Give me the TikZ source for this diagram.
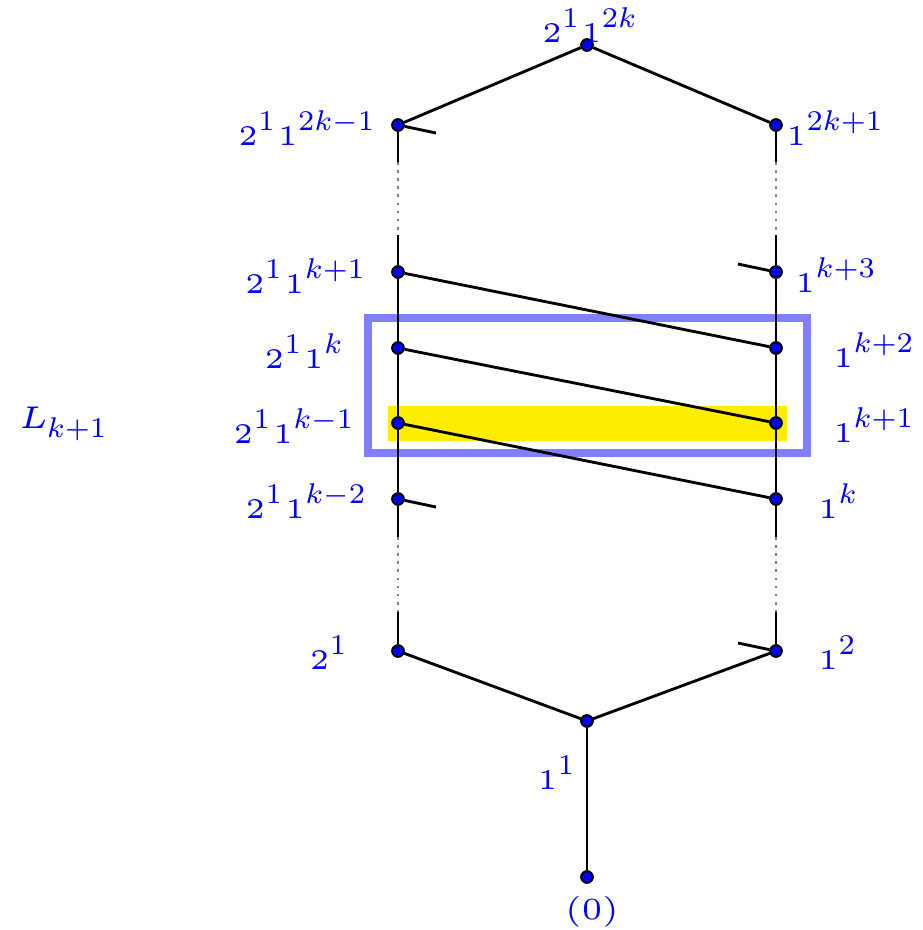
\documentclass[tikz,border=0pt]{standalone}
\usepackage{graphicx}
\definecolor{hlyellow}{RGB}{255,237,0}
\definecolor{boxblue}{RGB}{128,128,255}
\newcommand\bs[1]{\scalebox{1.9}{$\scriptscriptstyle #1$}}
\newcommand\up[1]{\kern0.2pt\raisebox{5pt}{\scalebox{1.36}{$\scriptstyle #1$}}\kern1.1pt}
\newcommand\dn[1]{\raisebox{-3.3pt}{\scalebox{1.36}{$\scriptstyle #1$}}}
\begin{document}
\begin{tikzpicture}[x=0.33333pt,y=-0.33333pt,
  dot/.style={circle,fill=blue,draw=black,line width=0.5pt,inner sep=0pt,minimum size=4pt},
  edge/.style={line width=0.95pt,black},
  gap/.style={line width=0.9pt,gray,dash pattern=on 0.9pt off 1.8pt},
  lbl/.style={text=blue,inner sep=0pt}]
\path[use as bounding box] (0,0) rectangle (923,930);
% highlight rectangles
\fill[hlyellow] (388,406) rectangle (787,441);
\draw[boxblue,line width=2.67pt] (368,318) rectangle (807,453);
% dots
\node[dot] (T) at (587,45) {};
\node[dot] (L1) at (398,125) {};
\node[dot] (L2) at (398,272) {};
\node[dot] (L3) at (398,348) {};
\node[dot] (L4) at (398,423) {};
\node[dot] (L5) at (398,499) {};
\node[dot] (L6) at (398,651) {};
\node[dot] (R1) at (776,125) {};
\node[dot] (R2) at (776,272) {};
\node[dot] (R3) at (776,348) {};
\node[dot] (R4) at (776,423) {};
\node[dot] (R5) at (776,499) {};
\node[dot] (R6) at (776,651) {};
\node[dot] (M) at (587,721) {};
\node[dot] (B) at (587,877) {};
% break coordinates
\coordinate (L1a) at (398,162); \coordinate (L1b) at (398,235);
\coordinate (R1a) at (776,162); \coordinate (R1b) at (776,235);
\coordinate (L5a) at (398,537); \coordinate (L5b) at (398,612);
\coordinate (R5a) at (776,537); \coordinate (R5b) at (776,612);
% stubs
\coordinate (s1) at (436,133);
\coordinate (s2) at (738,264);
\coordinate (s3) at (436,507);
\coordinate (s4) at (738,643);
% edges
\draw[edge] (T) -- (L1);
\draw[edge] (T) -- (R1);
\draw[edge] (L1) -- (L1a);
\draw[gap] (L1a) -- (L1b);
\draw[edge] (L1b) -- (L2);
\draw[edge] (R1) -- (R1a);
\draw[gap] (R1a) -- (R1b);
\draw[edge] (R1b) -- (R2);
\draw[edge] (L2) -- (L3);
\draw[edge] (L3) -- (L4);
\draw[edge] (L4) -- (L5);
\draw[edge] (R2) -- (R3);
\draw[edge] (R3) -- (R4);
\draw[edge] (R4) -- (R5);
\draw[edge] (L2) -- (R3);
\draw[edge] (L3) -- (R4);
\draw[edge] (L4) -- (R5);
\draw[edge] (L5) -- (L5a);
\draw[gap] (L5a) -- (L5b);
\draw[edge] (L5b) -- (L6);
\draw[edge] (R5) -- (R5a);
\draw[gap] (R5a) -- (R5b);
\draw[edge] (R5b) -- (R6);
\draw[edge] (L1) -- (s1);
\draw[edge] (R2) -- (s2);
\draw[edge] (L5) -- (s3);
\draw[edge] (R6) -- (s4);
\draw[edge] (L6) -- (M);
\draw[edge] (R6) -- (M);
\draw[edge] (M) -- (B);
% redraw dots on top
\foreach \n in {T,L1,L2,L3,L4,L5,L6,R1,R2,R3,R4,R5,R6,M,B}
  \fill[blue,draw=black,line width=0.6pt] (\n.center) circle (1.9pt);
% labels
\node[lbl,anchor=base] (tT) at (591,42) {\bs{2}\up{1}\bs{1}\up{2k}};
\node[lbl,anchor=base east] (tL1) at (378,145) {\bs{2}\up{1}\bs{1}\up{2k-1}};
\node[lbl,anchor=base west] (tR1) at (786,145) {\bs{1}\up{2k+1}};
\node[lbl,anchor=base east] (tL2) at (368,293) {\bs{2}\up{1}\bs{1}\up{k+1}};
\node[lbl,anchor=base west] (tR2) at (795,292) {\bs{1}\up{k+3}};
\node[lbl,anchor=base east] (tL3) at (346,368) {\bs{2}\up{1}\bs{1}\up{k}};
\node[lbl,anchor=base west] (tR3) at (833,367) {\bs{1}\up{k+2}};
\node[lbl,anchor=base east] (tL4) at (357,443) {\bs{2}\up{1}\bs{1}\up{k-1}};
\node[lbl,anchor=base west] (tR4) at (833,442) {\bs{1}\up{k+1}};
\node[lbl,anchor=base east] (tL5) at (369,518) {\bs{2}\up{1}\bs{1}\up{k-2}};
\node[lbl,anchor=base west] (tR5) at (818,518) {\bs{1}\up{k}};
\node[lbl,anchor=base east] (tL6) at (350,669) {\bs{2}\up{1}};
\node[lbl,anchor=base west] (tR6) at (818,669) {\bs{1}\up{2}};
\node[lbl,anchor=base east] (tM) at (578,789) {\bs{1}\up{1}};
\node[lbl,anchor=base] (tB) at (592,919) {\scalebox{2.05}{$\scriptscriptstyle (0)$}};
\node[lbl,anchor=base west] (tLk) at (18,428) {\scalebox{2.1}{$\scriptscriptstyle L$}\kern-0.6pt\dn{k+1}};
\end{tikzpicture}
\end{document}
